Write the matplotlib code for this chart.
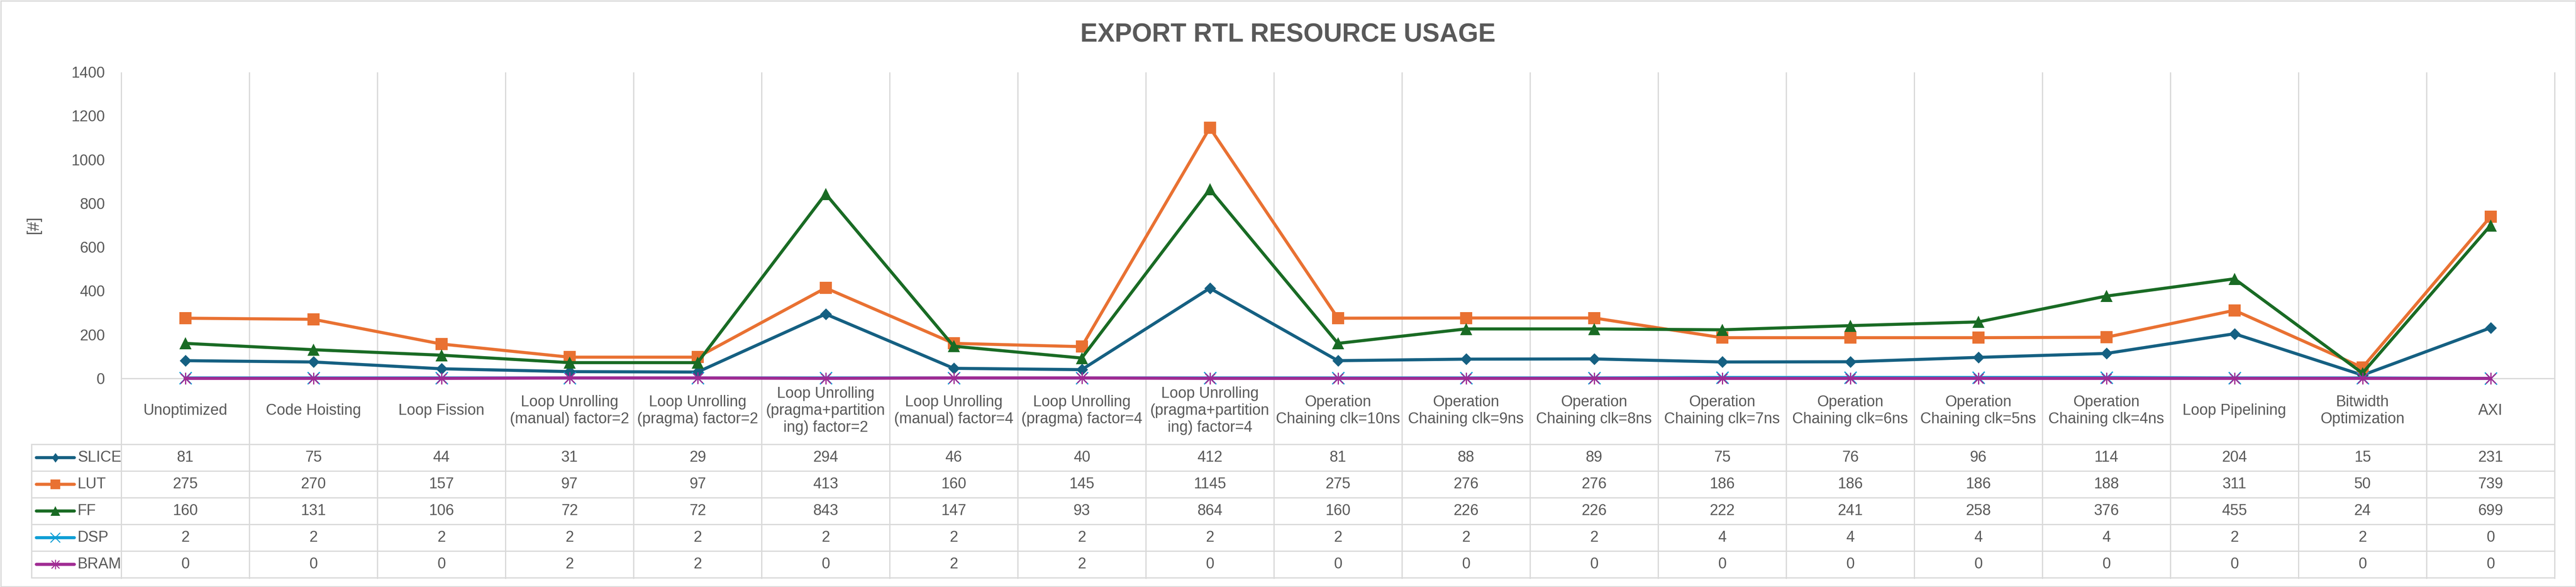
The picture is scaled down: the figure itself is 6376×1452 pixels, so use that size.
import matplotlib
matplotlib.use("Agg")
import matplotlib.pyplot as plt
from matplotlib.transforms import blended_transform_factory
from matplotlib.patches import Rectangle
from matplotlib.path import Path
import numpy as np

plt.rcParams['font.family'] = ['Liberation Sans', 'DejaVu Sans']

categories = [
    "Unoptimized", "Code Hoisting", "Loop Fission",
    "Loop Unrolling\n(manual) factor=2", "Loop Unrolling\n(pragma) factor=2",
    "Loop Unrolling\n(pragma+partition\ning) factor=2",
    "Loop Unrolling\n(manual) factor=4", "Loop Unrolling\n(pragma) factor=4",
    "Loop Unrolling\n(pragma+partition\ning) factor=4",
    "Operation\nChaining clk=10ns", "Operation\nChaining clk=9ns",
    "Operation\nChaining clk=8ns", "Operation\nChaining clk=7ns",
    "Operation\nChaining clk=6ns", "Operation\nChaining clk=5ns",
    "Operation\nChaining clk=4ns", "Loop Pipelining",
    "Bitwidth\nOptimization", "AXI",
]

slice_vals = [81, 75, 44, 31, 29, 294, 46, 40, 412, 81, 88, 89, 75, 76, 96, 114, 204, 15, 231]
lut_vals = [275, 270, 157, 97, 97, 413, 160, 145, 1145, 275, 276, 276, 186, 186, 186, 188, 311, 50, 739]
ff_vals = [160, 131, 106, 72, 72, 843, 147, 93, 864, 160, 226, 226, 222, 241, 258, 376, 455, 24, 699]
dsp_vals = [2, 2, 2, 2, 2, 2, 2, 2, 2, 2, 2, 2, 4, 4, 4, 4, 2, 2, 0]
bram_vals = [0, 0, 0, 2, 2, 0, 2, 2, 0, 0, 0, 0, 0, 0, 0, 0, 0, 0, 0]

series_names = ["SLICE", "LUT", "FF", "DSP", "BRAM"]
y_ticks = [0, 200, 400, 600, 800, 1000, 1200, 1400]

# excel-like markers
diamond = Path([(0, 1), (1, 0), (0, -1), (-1, 0), (0, 1)], closed=True)
thin_diamond = Path([(0, 1), (0.75, 0), (0, -1), (-0.75, 0), (0, 1)], closed=True)
M, L = Path.MOVETO, Path.LINETO
asterisk = Path([(-1, -1), (1, 1), (-1, 1), (1, -1), (0, -1.2), (0, 1.2)],
                [M, L, M, L, M, L])

styles = {
    "SLICE": dict(color="#156082", marker=diamond, ms=21, mew=0),
    "LUT": dict(color="#E97132", marker="s", ms=21, mew=0),
    "FF": dict(color="#196B24", marker="^", ms=21, mew=0),
    "DSP": dict(color="#0F9ED5", marker="x", ms=21, mew=2.2),
    "BRAM": dict(color="#A02B93", marker=asterisk, ms=21, mew=2.2),
}
values = {"SLICE": slice_vals, "LUT": lut_vals, "FF": ff_vals, "DSP": dsp_vals, "BRAM": bram_vals}

W, H = 6376, 1452
grid_col = "#D9D9D9"
txt_col = "#595959"
fs = 27


def fy(px):
    return 1 - px / H


def fx(px):
    return px / W


fig = plt.figure(figsize=(W / 100, H / 100), dpi=100)
ax = fig.add_axes([fx(300), fy(936), fx(6323) - fx(300), fy(178) - fy(936)])

x = np.arange(len(categories))
for name in series_names:
    st = styles[name]
    ax.plot(x, values[name], color=st["color"], lw=5.5, marker=st["marker"],
            ms=st["ms"], mew=st["mew"], mec=st["color"], mfc=st["color"],
            solid_joinstyle="round", clip_on=False, zorder=3)

ax.set_xlim(-0.5, len(categories) - 0.5)
ax.set_ylim(0, 1400)
ax.set_yticks(y_ticks)
ax.set_xticks([])
ax.tick_params(axis="y", length=0, pad=29, labelsize=fs, labelcolor=txt_col)
for s in ["top", "right", "left"]:
    ax.spines[s].set_visible(False)
ax.spines["bottom"].set_color(grid_col)
ax.spines["bottom"].set_linewidth(2.2)

fig.text(fx(83), fy(557), "[#]", rotation=90, ha="center", va="center",
         fontsize=29, color=txt_col)

# vertical gridlines through plot and table
bt = blended_transform_factory(ax.transData, fig.transFigure)
for b in np.arange(-0.5, len(categories), 1.0):
    ax.plot([b, b], [fy(180), fy(1430)], transform=bt, color=grid_col, lw=2.2,
            clip_on=False, zorder=1)

# category labels
for i, cat in enumerate(categories):
    ax.text(i, fy(1016), cat, transform=bt, ha="center", va="center",
            fontsize=fs, color=txt_col, linespacing=1.2, clip_on=False)

# data table
row_top = 1099
row_h = 66
table_left = 78
for r in range(len(series_names) + 1):
    yy = fy(row_top + r * row_h)
    fig.add_artist(plt.Line2D([fx(table_left), fx(6323)], [yy, yy], color=grid_col, lw=2.2))
fig.add_artist(plt.Line2D([fx(table_left), fx(table_left)],
                          [fy(row_top), fy(row_top + row_h * len(series_names))],
                          color=grid_col, lw=2.2))

for r, name in enumerate(series_names):
    st = styles[name]
    yc = fy(row_top + r * row_h + row_h / 2)
    fig.add_artist(plt.Line2D([fx(90), fx(184)], [yc, yc], color=st["color"], lw=5.5,
                              solid_capstyle="round"))
    key_marker = thin_diamond if name == "SLICE" else st["marker"]
    fig.add_artist(plt.Line2D([fx(137)], [yc], color=st["color"], marker=key_marker,
                              ms=17, mew=st["mew"] * 0.8, mec=st["color"], mfc=st["color"]))
    fig.text(fx(192), yc, name, ha="left", va="center", fontsize=fs, color=txt_col)
    for i, v in enumerate(values[name]):
        ax.text(i, yc, str(v), transform=bt, ha="center", va="center",
                fontsize=fs, color=txt_col, clip_on=False)

fig.text(0.5, fy(104), "EXPORT RTL RESOURCE USAGE", ha="center", va="baseline",
         fontsize=46, fontweight="bold", color=txt_col)

fig.add_artist(Rectangle((fx(1.5), fy(1450.5)), fx(6373), fy(1.5) - fy(1450.5),
                         transform=fig.transFigure, fill=False, ec=grid_col, lw=2.2))

fig.savefig("out.png", dpi=100, facecolor="white")
